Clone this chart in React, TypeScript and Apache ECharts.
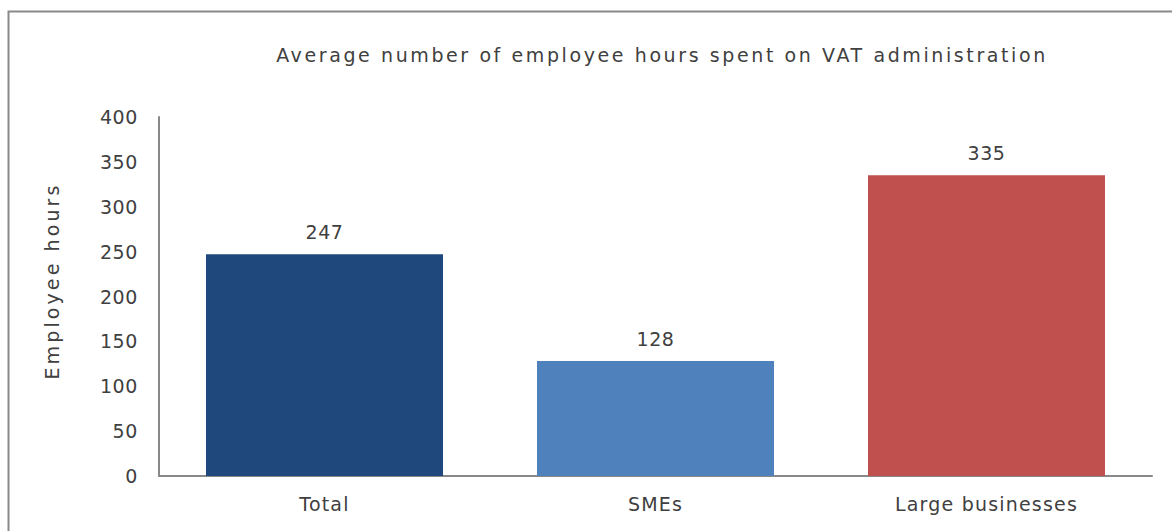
import React, { useEffect, useRef } from "react";
import * as echarts from "echarts";

const categories = ["Total", "SMEs", "Large businesses"];
const values = [247, 128, 335];
const barColors = ["#1F497D", "#4F81BD", "#C0504D"];
const yTicks = [0, 400, 50];

const TITLE = "Average number of employee hours spent on VAT administration";
const Y_NAME = "Employee hours";
const FONT = "DejaVu Sans";

export default function App() {
  const ref = useRef<HTMLDivElement>(null);
  useEffect(() => {
    const chart = echarts.init(ref.current!, undefined, { renderer: "svg" });
    chart.setOption({
      animation: false,
      backgroundColor: "#ffffff",
      grid: { left: 159, right: 20, top: 117, bottom: 55, containLabel: false },
      title: {
        text: TITLE,
        left: 657,
        textAlign: "center",
        top: 40,
        textStyle: { fontFamily: FONT, fontSize: 19, fontWeight: "normal", color: "#404040" },
      },
      xAxis: {
        type: "category",
        data: categories,
        axisLine: { lineStyle: { color: "#898989", width: 2 } },
        axisTick: { show: false },
        axisLabel: { fontFamily: FONT, fontSize: 19, color: "#404040", margin: 18 },
      },
      yAxis: {
        type: "value",
        min: yTicks[0],
        max: yTicks[1],
        interval: yTicks[2],
        axisLine: { show: true, lineStyle: { color: "#898989", width: 2 } },
        axisTick: { show: false },
        splitLine: { show: false },
        axisLabel: { fontFamily: FONT, fontSize: 19, color: "#404040", margin: 21 },
      },
      graphic: [
        {
          type: "rect",
          shape: { x: 8.5, y: 11.5, width: 1200, height: 600 },
          style: { fill: "none", stroke: "#898989", lineWidth: 2 },
          silent: true,
        },
        {
          type: "text",
          x: 52,
          y: 281,
          rotation: Math.PI / 2,
          style: {
            text: Y_NAME,
            fontFamily: FONT,
            fontSize: 19,
            fill: "#404040",
            align: "center",
            verticalAlign: "middle",
          },
        },
      ],
      series: [
        {
          type: "bar",
          barCategoryGap: "28.4%",
          data: values.map((v, i) => ({ value: v, itemStyle: { color: barColors[i] } })),
          label: {
            show: true,
            position: "top",
            distance: 13,
            fontFamily: FONT,
            fontSize: 19,
            color: "#404040",
          },
        },
      ],
    });
    // widen the tracking of the texts, as in the reference
    const texts = ref.current!.querySelectorAll("text");
    texts.forEach((t) => {
      const s = (t.textContent || "").trim();
      let ls = 1.2;
      if (s === TITLE) ls = 2.6;
      else if (s === Y_NAME) ls = 3.1;
      else if (/^\d+$/.test(s)) ls = 0.6;
      t.setAttribute("letter-spacing", String(ls));
    });
    return () => chart.dispose();
  }, []);
  return (
    <div
      ref={ref}
      style={{ position: "fixed", left: 0, top: 0, width: 1172, height: 531 }}
    />
  );
}
